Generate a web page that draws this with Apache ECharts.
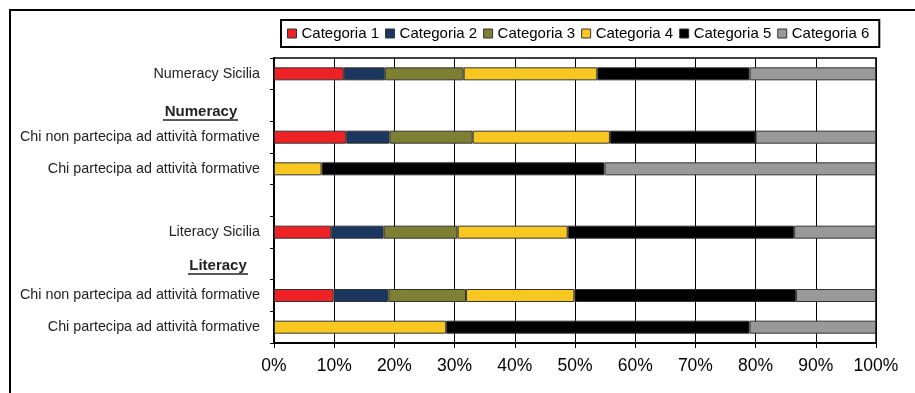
<!DOCTYPE html>
<html>
<head>
<meta charset="utf-8">
<script src="https://cdn.jsdelivr.net/npm/echarts@6/dist/echarts.min.js"></script>
<style>
html,body{margin:0;padding:0;background:#fff;}
#c{width:915px;height:393px;}
</style>
</head>
<body>
<div id="c"></div>
<script>
const rowLabels = ['Numeracy Sicilia', '', 'Chi non partecipa ad attività formative', 'Chi partecipa ad attività formative', '', 'Literacy Sicilia', '', 'Chi non partecipa ad attività formative', 'Chi partecipa ad attività formative'];
const seriesNames = ['Categoria 1', 'Categoria 2', 'Categoria 3', 'Categoria 4', 'Categoria 5', 'Categoria 6'];
const cat1 = [11.6, null, 12.0, null, null, 9.5, null, 9.9, null];
const cat2 = [6.8, null, 7.2, null, null, 8.7, null, 9.1, null];
const cat3 = [13.1, null, 13.8, null, null, 12.3, null, 12.9, null];
const cat4 = [22.2, null, 22.8, 7.9, null, 18.3, null, 18.0, 28.6];
const cat5 = [25.3, null, 24.2, 47.0, null, 37.6, null, 36.8, 50.4];
const cat6 = [21.0, null, 20.0, 45.1, null, 13.6, null, 13.3, 21.0];
const xTicks = [0, 10, 20, 30, 40, 50, 60, 70, 80, 90, 100];
const groupHeaders = ['Numeracy', 'Literacy'];

const colors = ['#ee2224', '#1b365f', '#7d8032', '#f8c821', '#000000', '#999999'];
const allData = [cat1, cat2, cat3, cat4, cat5, cat6];
const FONT = 'Liberation Sans, Arial, sans-serif';

const chart = echarts.init(document.getElementById('c'));

const series = seriesNames.map((n, i) => ({
  name: n,
  type: 'bar',
  stack: 'all',
  barWidth: 13,
  data: allData[i],
  itemStyle: { color: colors[i], borderColor: '#333', borderWidth: 1 },
  emphasis: { disabled: true }
}));

chart.setOption({
  animation: false,
  backgroundColor: '#fff',
  color: colors,
  legend: {
    data: seriesNames,
    left: 281,
    top: 20,
    padding: [6, 10, 6, 6],
    borderColor: '#000',
    borderWidth: 2,
    itemWidth: 9,
    itemHeight: 9,
    itemGap: 6,
    icon: 'rect',
    itemStyle: { borderColor: '#333', borderWidth: 1 },
    textStyle: { fontFamily: FONT, fontSize: 15, color: '#000' },
    selectedMode: false
  },
  grid: {
    left: 274, right: 39, top: 58, bottom: 50,
    show: true, borderColor: '#000', borderWidth: 1.5, backgroundColor: 'transparent'
  },
  xAxis: {
    type: 'value',
    min: 0, max: 100, interval: 10,
    axisLine: { show: true, lineStyle: { color: '#000', width: 2 } },
    axisTick: { show: true, length: 5, lineStyle: { color: '#000' } },
    axisLabel: { formatter: v => xTicks.includes(v) ? v + '%' : '', fontFamily: FONT, fontSize: 17.5, color: '#000', margin: 14 },
    splitLine: { show: true, lineStyle: { color: '#000', width: 1 } }
  },
  yAxis: {
    type: 'category',
    inverse: true,
    data: rowLabels.map((l, i) => 'r' + i),
    axisLine: { show: true, lineStyle: { color: '#000', width: 2 } },
    axisTick: { show: true, length: 4, lineStyle: { color: '#000' } },
    axisLabel: { formatter: (v, i) => rowLabels[i], fontFamily: FONT, fontSize: 14.3, color: '#222', margin: 14 },
    splitLine: { show: false }
  },
  series: series,
  graphic: [
    { type: 'rect', shape: { x: 10, y: 10, width: 2000, height: 2000 }, style: { fill: 'none', stroke: '#000', lineWidth: 2 }, silent: true },
    { type: 'text', x: 201, y: 112, style: { text: groupHeaders[0], font: 'bold 15px ' + FONT, fill: '#222', align: 'center', verticalAlign: 'middle' } },
    { type: 'line', shape: { x1: 163, y1: 120, x2: 238, y2: 120 }, style: { stroke: '#222', lineWidth: 1.3 } },
    { type: 'text', x: 218, y: 266, style: { text: groupHeaders[1], font: 'bold 15px ' + FONT, fill: '#222', align: 'center', verticalAlign: 'middle' } },
    { type: 'line', shape: { x1: 188, y1: 274, x2: 248, y2: 274 }, style: { stroke: '#222', lineWidth: 1.3 } }
  ]
});
</script>
</body>
</html>
